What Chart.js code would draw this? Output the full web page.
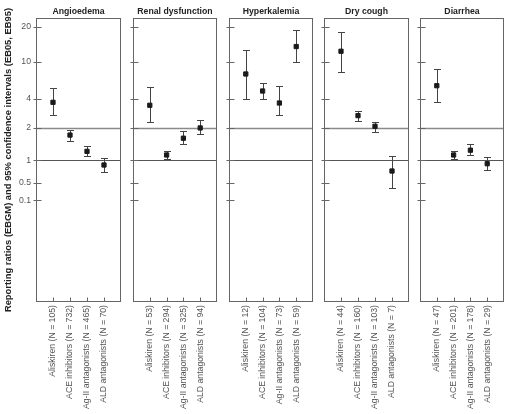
<!DOCTYPE html>
<html>
<head>
<meta charset="utf-8">
<script src="https://cdn.jsdelivr.net/npm/chart.js"></script>
<style>
  html, body { margin:0; padding:0; background:#fff; }
  #wrap { position:relative; width:510px; height:414px; overflow:hidden; }
  canvas { position:absolute; top:0; }
</style>
</head>
<body>
<div id="wrap"></div>
<script>
// ---------------- DATA ----------------
const panelTitles = ["Angioedema", "Renal dysfunction", "Hyperkalemia", "Dry cough", "Diarrhea"];
const drugs = ["Aliskiren", "ACE inhibitors", "Ag-II antagonists", "ALD antagonists"];

const nAngioedema = [105, 732, 465, 70];
const nRenal      = [53, 294, 325, 94];
const nHyperK     = [12, 104, 73, 59];
const nCough      = [44, 160, 103, 7];
const nDiarrhea   = [47, 201, 178, 29];

const ebgmAngioedema = [3.67, 1.71, 1.21, 0.865];
const eb05Angioedema = [2.69, 1.50, 1.09, 0.70];
const eb95Angioedema = [5.25, 1.92, 1.36, 1.05];

const ebgmRenal = [3.42, 1.12, 1.60, 1.99];
const eb05Renal = [2.28, 1.03, 1.40, 1.75];
const eb95Renal = [5.30, 1.22, 1.88, 2.42];

const ebgmHyperK = [7.38, 4.84, 3.61, 13.5];
const eb05HyperK = [3.94, 3.94, 2.73, 9.85];
const eb95HyperK = [12.5, 5.94, 5.44, 18.8];

const ebgmCough = [12.3, 2.67, 2.07, 0.718];
const eb05Cough = [7.7, 2.34, 1.83, 0.31];
const eb95Cough = [17.9, 2.97, 2.27, 1.10];

const ebgmDiarrhea = [5.52, 1.12, 1.24, 0.90];
const eb05Diarrhea = [3.72, 1.02, 1.12, 0.73];
const eb95Diarrhea = [8.29, 1.22, 1.41, 1.08];

const yTickValues = [0.1, 0.5, 1, 2, 4, 10, 20];
const referenceLines = [1, 2];
const yTitle = "Reporting ratios (EBGM) and 95% confidence intervals (EB05, EB95)";

// ---------------- AXIS MAPPING (scale configuration) ----------------
// fraction of axis height (from bottom) at which each tick value sits in the original figure
const axisAnchorValues = [0.1, 0.5, 1, 2, 4, 10, 20];
const axisAnchorFracs  = [0.3581, 0.4201, 0.4989, 0.6137, 0.7158, 0.8461, 0.9694];

function warp(v) {
  const V = axisAnchorValues, F = axisAnchorFracs, n = V.length;
  if (v <= V[0]) return F[0] * Math.max(v, 0) / V[0];
  for (let i = 0; i < n - 1; i++) {
    if (v <= V[i + 1]) {
      const t = (Math.log(v) - Math.log(V[i])) / (Math.log(V[i + 1]) - Math.log(V[i]));
      return F[i] + t * (F[i + 1] - F[i]);
    }
  }
  const t = (Math.log(v) - Math.log(V[n - 2])) / (Math.log(V[n - 1]) - Math.log(V[n - 2]));
  return F[n - 2] + t * (F[n - 1] - F[n - 2]);
}
function unwarp(d) {
  const V = axisAnchorValues, F = axisAnchorFracs, n = V.length;
  if (d <= F[0]) return V[0] * d / F[0];
  for (let i = 0; i < n - 1; i++) {
    if (d <= F[i + 1] || i === n - 2) {
      const t = (d - F[i]) / (F[i + 1] - F[i]);
      return Math.exp(Math.log(V[i]) + t * (Math.log(V[i + 1]) - Math.log(V[i])));
    }
  }
}

const BaseLinear = Chart.LinearScale || Chart.registry.getScale('linear');
class WarpScale extends BaseLinear {
  determineDataLimits() { this.min = 0; this.max = 30; }
  buildTicks() { return yTickValues.map(v => ({ value: v })); }
  getPixelForValue(v) { return this.getPixelForDecimal(warp(v)); }
  getValueForPixel(p) { return unwarp(this.getDecimalForPixel(p)); }
}
WarpScale.id = 'warp';
WarpScale.defaults = BaseLinear.defaults;
Chart.register(WarpScale);

// ---------------- LAYOUT ----------------
const boxLeft  = [36, 133, 229, 324, 420];
const boxWidth = [84, 83, 83, 84, 83];
const AREA_BOTTOM = 302;
const CANVAS_H = 414;

const panels = [
  { n: nAngioedema, ebgm: ebgmAngioedema, lo: eb05Angioedema, hi: eb95Angioedema },
  { n: nRenal,      ebgm: ebgmRenal,      lo: eb05Renal,      hi: eb95Renal },
  { n: nHyperK,     ebgm: ebgmHyperK,     lo: eb05HyperK,     hi: eb95HyperK },
  { n: nCough,      ebgm: ebgmCough,      lo: eb05Cough,      hi: eb95Cough },
  { n: nDiarrhea,   ebgm: ebgmDiarrhea,   lo: eb05Diarrhea,   hi: eb95Diarrhea },
];

const FONT = "'Liberation Sans', Arial, Helvetica, sans-serif";
const TICK_COLOR = '#555';

function makeDecor(p) {
  return {
    id: 'decor',
    beforeDatasetsDraw(chart) {
      const { ctx, chartArea: a, scales: { x, y } } = chart;
      ctx.save();
      referenceLines.forEach((v, k) => {
        const py = Math.round(y.getPixelForValue(v)) + 0.5;
        ctx.beginPath();
        ctx.strokeStyle = k === 0 ? '#555' : '#8a8a8a';
        ctx.lineWidth = k === 0 ? 1 : 1.4;
        ctx.moveTo(a.left, py); ctx.lineTo(a.right, py);
        ctx.stroke();
      });
      ctx.strokeStyle = '#444';
      ctx.lineWidth = 1;
      p.ebgm.forEach((v, i) => {
        const px = Math.round(x.getPixelForValue(i + 1)) + 0.5;
        const yl = Math.round(y.getPixelForValue(p.lo[i])) + 0.5;
        const yh = Math.round(y.getPixelForValue(p.hi[i])) + 0.5;
        ctx.beginPath();
        ctx.moveTo(px, yl); ctx.lineTo(px, yh);
        ctx.moveTo(px - 3.5, yl); ctx.lineTo(px + 3.5, yl);
        ctx.moveTo(px - 3.5, yh); ctx.lineTo(px + 3.5, yh);
        ctx.stroke();
      });
      ctx.restore();
    },
    afterDraw(chart) {
      const { ctx, chartArea: a, scales: { x, y } } = chart;
      ctx.save();
      ctx.strokeStyle = '#666';
      ctx.lineWidth = 1;
      const L = Math.round(a.left) + 0.5, R = Math.round(a.right) - 0.5;
      const T = Math.round(a.top) + 0.5, B = Math.round(a.bottom) - 0.5;
      ctx.strokeRect(L, T, R - L, B - T);
      ctx.beginPath();
      yTickValues.forEach(v => {
        const py = Math.round(y.getPixelForValue(v)) + 0.5;
        ctx.moveTo(L - 3, py); ctx.lineTo(L + 5, py);
      });
      for (let i = 1; i <= drugs.length; i++) {
        const px = Math.round(x.getPixelForValue(i)) + 0.5;
        ctx.moveTo(px, B); ctx.lineTo(px, B - 4);
      }
      ctx.stroke();
      ctx.restore();
    }
  };
}

const wrap = document.getElementById('wrap');
panels.forEach((p, k) => {
  const first = k === 0;
  const leftW = first ? boxLeft[0] : 6;
  const canvas = document.createElement('canvas');
  const cw = leftW + boxWidth[k] + 6;
  canvas.width = cw; canvas.height = CANVAS_H;
  canvas.style.left = (boxLeft[k] - leftW) + 'px';
  canvas.style.width = cw + 'px'; canvas.style.height = CANVAS_H + 'px';
  wrap.appendChild(canvas);

  const labels = [''].concat(drugs.map((d, i) => d + ' (N = ' + p.n[i] + ')')).concat(['']);

  new Chart(canvas, {
    type: 'line',
    data: {
      labels: labels,
      datasets: [{
        data: p.ebgm.map((v, i) => ({ x: labels[i + 1], y: v })),
        showLine: false,
        pointStyle: 'rect',
        pointRadius: 3,
        pointBorderWidth: 1,
        pointBackgroundColor: '#1a1a1a',
        pointBorderColor: '#1a1a1a',
      }]
    },
    options: {
      responsive: false,
      animation: false,
      devicePixelRatio: 1,
      layout: { padding: { left: first ? 0 : 6, right: 4, top: 0, bottom: 0 } },
      plugins: {
        legend: { display: false },
        tooltip: { enabled: false },
        title: {
          display: true,
          fullSize: false,
          text: panelTitles[k],
          color: '#222',
          font: { family: FONT, size: 8.7, weight: 'bold' },
          padding: { top: 6, bottom: 1.56 }
        }
      },
      scales: {
        x: {
          type: 'category',
          offset: false,
          grid: { display: false, drawTicks: false },
          border: { display: false },
          ticks: {
            autoSkip: false, minRotation: 90, maxRotation: 90,
            padding: 3, color: TICK_COLOR,
            font: { family: FONT, size: 8.7 }
          },
          afterFit: s => { s.height = CANVAS_H - AREA_BOTTOM; s.paddingLeft = 0; s.paddingRight = 0; }
        },
        y: {
          type: 'warp',
          display: first,
          grid: { display: false, drawTicks: false },
          border: { display: false },
          ticks: {
            padding: 5, color: TICK_COLOR,
            font: { family: FONT, size: 8.7 },
            callback: v => String(v)
          },
          title: {
            display: first,
            text: yTitle,
            color: '#222',
            font: { family: FONT, size: 9.4, weight: 'bold' },
            padding: { top: 3, bottom: 0 }
          },
          afterFit: s => { s.width = first ? boxLeft[0] : 0; s.paddingTop = 0; s.paddingBottom = 0; }
        }
      }
    },
    plugins: [makeDecor(p)]
  });
});
</script>
</body>
</html>
